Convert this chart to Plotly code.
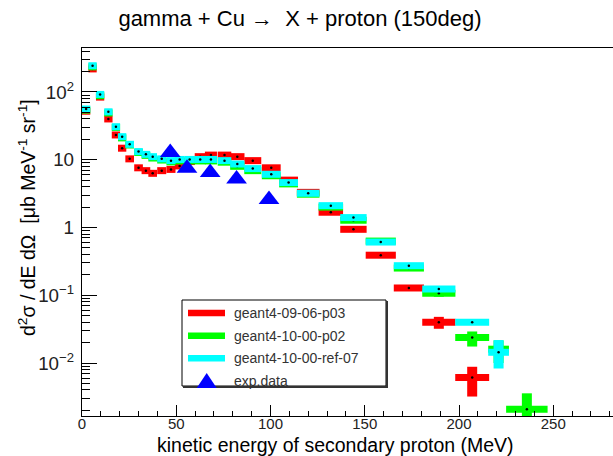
import plotly.graph_objects as go

# ---------------- data ----------------
# geant4-10-00-ref-07 (cyan)
cy_E  = [2.2, 5.6, 9.6, 14.0, 18.0, 21.3, 25.3, 30.0, 33.9, 37.5, 42.3, 47.2, 51.8, 57.1, 62.7, 68.4, 75.6, 82.4, 90.6, 100.4, 109.6, 120.0, 132.0, 144.0, 158.5, 173.4, 189.3, 207.0, 221.0]
cy_dE = [2.2, 2.2, 2.2, 2.2, 2.2, 2.2, 2.3, 2.3, 2.3, 2.3, 2.4, 2.4, 2.6, 2.8, 2.9, 3.2, 3.6, 3.8, 4.5, 5.0, 5.0, 6.0, 6.5, 7.0, 8.0, 8.0, 8.8, 9.0, 5.5]
cy_y  = [56, 244, 92, 51, 30.7, 21.9, 16.9, 13.2, 12.0, 11.1, 10.3, 9.7, 10.1, 10.1, 10.1, 10.1, 9.7, 8.65, 7.4, 6.1, 4.6, 3.2, 2.1, 1.40, 0.61, 0.273, 0.124, 0.040, 0.0144]
cy_ep = [0]*26 + [0.012, 0.003, 0.0074]
cy_em = [0]*26 + [0.012, 0.003, 0.0061]

# geant4-10-00-p02 (green)
gr_E  = cy_E + [236.0]
gr_dE = cy_dE + [11.0]
gr_y  = [54, 235, 88, 49, 30, 21, 16.5, 12.8, 11.6, 10.6, 9.9, 9.3, 9.6, 9.6, 9.6, 9.6, 9.2, 8.0, 6.9, 5.8, 4.4, 3.1, 2.0, 1.28, 0.63, 0.252, 0.107, 0.0237, 0.016, 0.00207]
gr_ep = [0]*26 + [0.012, 0.0055, 0.0055, 0.0015]
gr_em = [0]*26 + [0.012, 0.0062, 0.0060, 0.0009]

# geant4-09-06-p03 (red)
rd_E  = cy_E[:28]
rd_dE = cy_dE[:28]
rd_y  = [52, 219, 84, 40, 23.2, 14.8, 10.3, 7.6, 6.9, 6.3, 6.9, 7.2, 8.1, 9.4, 11.1, 11.7, 11.7, 11.1, 9.7, 7.6, 5.0, 3.3, 1.68, 0.94, 0.39, 0.128, 0.040, 0.0061]
rd_ep = [0]*26 + [0.008, 0.0027]
rd_em = [0]*26 + [0.008, 0.0029]

# exp. data (blue triangles)
ex_E = [46.8, 55.7, 68.0, 82.0, 99.2]
ex_y = [12.8, 7.5, 6.5, 5.2, 2.6]

legend_labels = ["geant4-09-06-p03", "geant4-10-00-p02", "geant4-10-00-ref-07", "exp.data"]
colors = ["#ff0000", "#00ff00", "#00ffff", "#0000ff"]

# ---------------- figure ----------------
W, H = 613, 456
L, R, T, B = 82, 0, 48, 40
PW, PH = W - L - R, H - T - B

def px(x):
    return (x - L) / PW

def py(y):
    return (H - B - y) / PH

fig = go.Figure()

def add_series(E, dE, y, ep, em, col):
    fig.add_trace(go.Scatter(
        x=E, y=y, mode="markers",
        marker=dict(color="black", size=2.5, symbol="circle"),
        error_x=dict(type="data", array=dE, symmetric=True, color=col, thickness=7, width=0),
        error_y=dict(type="data", array=ep, arrayminus=em, symmetric=False, color=col, thickness=10, width=0),
        showlegend=False, hoverinfo="skip", cliponaxis=True,
    ))

add_series(rd_E, rd_dE, rd_y, rd_ep, rd_em, colors[0])
add_series(gr_E, gr_dE, gr_y, gr_ep, gr_em, colors[1])
add_series(cy_E, cy_dE, cy_y, cy_ep, cy_em, colors[2])

fig.add_trace(go.Scatter(
    x=ex_E, y=ex_y, mode="markers",
    marker=dict(color=colors[3], size=18, symbol="triangle-up", line=dict(width=0)),
    showlegend=False, hoverinfo="skip",
))

font = "Liberation Sans, Arial, Helvetica, sans-serif"

fig.update_layout(
    width=W, height=H,
    margin=dict(l=L, r=R, t=T, b=B, pad=0),
    paper_bgcolor="white", plot_bgcolor="white",
    showlegend=False,
    font=dict(family=font, color="#222222"),
    title=dict(text="gamma + Cu \u2192  X + proton (150deg)", x=300 / W, y=1 - 18 / H,
               xanchor="center", yanchor="middle", font=dict(size=22, color="black", family=font)),
)

fig.update_xaxes(
    range=[0, 281.7], showgrid=False, zeroline=False,
    showline=True, linecolor="black", linewidth=1, mirror=True,
    tickmode="linear", tick0=0, dtick=50, ticks="inside", ticklen=11, tickcolor="black",
    minor=dict(dtick=10, ticks="inside", ticklen=5, tickcolor="black", showgrid=False),
    tickfont=dict(size=15, color="#222222"), ticklabelstandoff=-6,
)
fig.update_yaxes(
    type="log", range=[-2.782, 2.649], showgrid=False, zeroline=False,
    showline=True, linecolor="black", linewidth=1, mirror=False,
    dtick=1, exponentformat="power", ticks="inside", ticklen=15, tickcolor="black",
    minor=dict(dtick="D1", ticks="inside", ticklen=8, tickcolor="black", showgrid=False),
    tickfont=dict(size=15, color="#222222"), ticklabelstandoff=4,
)

annotations = [
    dict(text="d<sup>2</sup>\u03c3 / dE d\u03a9  [\u03bcb MeV<sup>-1</sup> sr<sup>-1</sup>]",
         xref="paper", yref="paper", x=px(27), y=py(218), xanchor="center", yanchor="middle",
         textangle=-90, showarrow=False, font=dict(size=19.5, color="black", family=font)),
    dict(text="kinetic energy of secondary proton (MeV)",
         xref="paper", yref="paper", x=px(335), y=py(445), xanchor="center", yanchor="middle",
         showarrow=False, font=dict(size=19.5, color="black", family=font)),
]

# legend (manual, ROOT TLegend look)
shapes = []
lx0, lx1, ly0, ly1 = 182, 386, 300, 386
shapes.append(dict(type="rect", xref="paper", yref="paper", x0=px(lx0), x1=px(lx1), y0=py(ly1), y1=py(ly0),
                   line=dict(color="black", width=1), fillcolor="white", layer="above"))
shapes.append(dict(type="line", xref="paper", yref="paper", x0=px(lx0 + 1), x1=px(lx1 + 2), y0=py(ly1 + 1), y1=py(ly1 + 1),
                   line=dict(color="#333333", width=2), layer="above"))
shapes.append(dict(type="line", xref="paper", yref="paper", x0=px(lx1 + 1), x1=px(lx1 + 1), y0=py(ly0 + 1), y1=py(ly1 + 2),
                   line=dict(color="#333333", width=2), layer="above"))
entry_y = [313, 335.7, 358.3, 381]
for i in range(3):
    shapes.append(dict(type="rect", xref="paper", yref="paper", x0=px(188), x1=px(225),
                       y0=py(entry_y[i] + 3.3), y1=py(entry_y[i] - 3.3),
                       line=dict(width=0), fillcolor=colors[i], layer="above"))
tri = "M {:.5f} {:.5f} L {:.5f} {:.5f} L {:.5f} {:.5f} Z".format(
    px(206.7), py(373), px(196.7), py(388), px(216.7), py(388))
shapes.append(dict(type="path", xref="paper", yref="paper", path=tri,
                   line=dict(width=0), fillcolor=colors[3], layer="above"))
for i, lab in enumerate(legend_labels):
    annotations.append(dict(text=lab, xref="paper", yref="paper", x=px(232), y=py(entry_y[i]),
                            xanchor="left", yanchor="middle", showarrow=False,
                            font=dict(size=14, color="#333333", family=font)))

fig.update_layout(annotations=annotations, shapes=shapes)

fig.write_html("out.html")
